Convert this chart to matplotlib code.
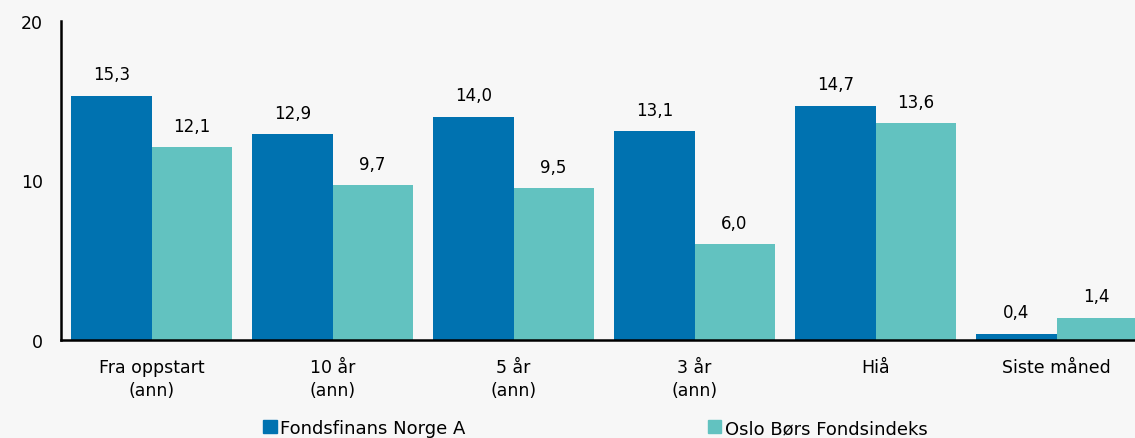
import matplotlib.pyplot as plt
import numpy as np
from matplotlib.patches import Patch

# Data
categories = ["Fra oppstart\n(ann)", "10 år\n(ann)", "5 år\n(ann)", "3 år\n(ann)", "Hiå", "Siste måned"]
fondsfinans = [15.3, 12.9, 14.0, 13.1, 14.7, 0.4]
oslo_bors = [12.1, 9.7, 9.5, 6.0, 13.6, 1.4]
series_names = ["Fondsfinans Norge A", "Oslo Børs Fondsindeks"]
yticks = [0, 10, 20]

bg = "#f7f7f7"
c_dark = "#0072b0"
c_teal = "#62c2c0"

dpi = 100
fig = plt.figure(figsize=(1135 / dpi, 439 / dpi), dpi=dpi, facecolor=bg)
ax = fig.add_axes([61 / 1135, 98 / 439, 1086 / 1135, 319 / 439])
ax.set_facecolor(bg)

x = np.arange(len(categories))
w = 0.442
b1 = ax.bar(x - w / 2, fondsfinans, w, color=c_dark)
b2 = ax.bar(x + w / 2, oslo_bors, w, color=c_teal)

for bars, vals in ((b1, fondsfinans), (b2, oslo_bors)):
    for bar, v in zip(bars, vals):
        ax.annotate(f"{v:.1f}".replace(".", ","),
                    (bar.get_x() + bar.get_width() / 2, v),
                    xytext=(0, 9), textcoords="offset points",
                    ha="center", va="bottom", fontsize=12)

ax.set_xlim(-0.5, len(categories) - 0.5)
ax.set_ylim(0, 20)
ax.set_yticks(yticks)
ax.set_xticks(x)
ax.set_xticklabels(categories, fontsize=12.5, linespacing=1.35)
ax.tick_params(axis="y", length=0, pad=13, labelsize=12.5)
ax.tick_params(axis="x", length=0, pad=13)

for s in ("top", "right"):
    ax.spines[s].set_visible(False)
for s in ("left", "bottom"):
    ax.spines[s].set_linewidth(1.8)
    ax.spines[s].set_color("black")

handles = [Patch(color=c_dark), Patch(color=c_teal)]
fig.legend(handles, series_names, loc="lower left", bbox_to_anchor=(247 / 1135, -0.035),
           ncol=2, frameon=False, fontsize=13, handlelength=0.75, handleheight=0.75,
           handletextpad=0.2, columnspacing=13.4)

fig.savefig("out.png", dpi=dpi, facecolor=bg)
